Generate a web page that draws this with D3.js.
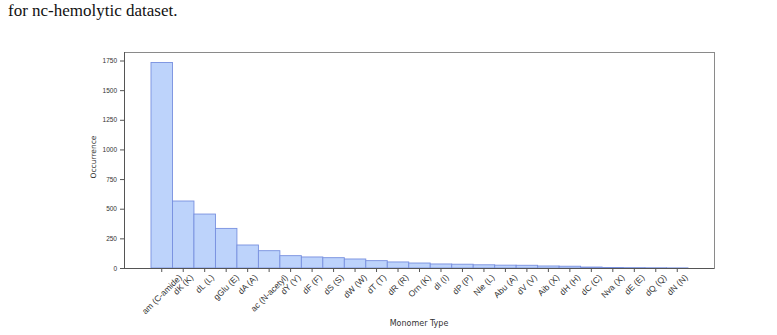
<!DOCTYPE html>
<html>
<head>
<meta charset="utf-8">
<script src="https://cdn.jsdelivr.net/npm/d3@7"></script>
<style>
  body { margin: 0; background: #fff; }
  #caption { position: absolute; left: 8px; top: 1px; font: 17px "Liberation Serif", "Times New Roman", serif; color: #111; }
</style>
</head>
<body>
<div id="caption">for nc-hemolytic dataset.</div>
<div id="chart"></div>
<script>
const monomers = ['am (C-amide)', 'dK (K)', 'dL (L)', 'gGlu (E)', 'dA (A)', 'ac (N-acetyl)', 'dY (Y)', 'dF (F)',
  'dS (S)', 'dW (W)', 'dT (T)', 'dR (R)', 'Orn (K)', 'dI (I)', 'dP (P)', 'Nle (L)', 'Abu (A)', 'dV (V)',
  'Aib (X)', 'dH (H)', 'dC (C)', 'Nva (X)', 'dE (E)', 'dQ (Q)', 'dN (N)'];
const occurrence = [1733, 565, 455, 334, 194, 146, 104, 93, 87, 76, 62, 51, 42, 34, 32, 27, 24, 23, 17, 15, 8, 4, 3, 2, 1];
const yTicks = [0, 250, 500, 750, 1000, 1250, 1500, 1750];

const width = 777, height = 335;
const plot = {left: 124, right: 714, top: 52, bottom: 268};

const svg = d3.select('#chart').append('svg')
  .attr('width', width)
  .attr('height', height)
  .style('position', 'absolute')
  .style('left', 0)
  .style('top', 0)
  .style('font-family', '"DejaVu Sans", sans-serif');

const x = d3.scaleBand()
  .domain(monomers)
  .range([151, 688])
  .padding(0);

const y = d3.scaleLinear()
  .domain([0, 1750])
  .range([plot.bottom, 60.5]);

// frame
svg.append('rect')
  .attr('x', plot.left + 0.5)
  .attr('y', plot.top + 0.5)
  .attr('width', plot.right - plot.left)
  .attr('height', plot.bottom - plot.top)
  .attr('fill', 'none')
  .attr('stroke', '#8a8a8a')
  .attr('stroke-width', 1);

svg.append('g')
  .selectAll('rect')
  .data(monomers)
  .join('rect')
    .attr('x', d => x(d))
    .attr('y', (d, i) => y(occurrence[i]))
    .attr('width', x.bandwidth())
    .attr('height', (d, i) => y(0) - y(occurrence[i]))
    .attr('fill', '#bdd3fb')
    .attr('stroke', '#7890df')
    .attr('stroke-width', 0.9);

const yAxis = svg.append('g')
  .attr('transform', `translate(${plot.left},0)`)
  .call(d3.axisLeft(y).tickValues(yTicks).tickFormat(d3.format('d')).tickSize(4).tickPadding(3));

const xAxis = svg.append('g')
  .attr('transform', `translate(0,${plot.bottom})`)
  .call(d3.axisBottom(x).tickSize(4).tickPadding(2));

[yAxis, xAxis].forEach(g => {
  g.select('.domain').attr('stroke', '#555');
  g.selectAll('.tick line').attr('stroke', '#555');
  g.selectAll('.tick text').attr('fill', '#333');
});

yAxis.selectAll('.tick text').style('font-size', '6.5px');

xAxis.select('.domain').attr('d', `M${plot.left},0.5H${plot.right}`);
yAxis.select('.domain').attr('d', `M0.5,${plot.top}V${plot.bottom}`);

// rotated labels centred under the tick, box top just below the tick
const fs = 8.5;
xAxis.selectAll('.tick text')
  .style('font-size', fs + 'px')
  .attr('text-anchor', 'middle')
  .attr('x', 0)
  .attr('y', 0)
  .attr('dy', '0.35em')
  .attr('transform', function() {
    const len = this.getComputedTextLength();
    const half = (len + fs) / Math.SQRT2 / 2;
    return `translate(0,${5 + half}) rotate(-45)`;
  });

svg.append('text')
  .attr('x', 419)
  .attr('y', 326)
  .attr('text-anchor', 'middle')
  .style('font-size', '8px')
  .attr('fill', '#333')
  .text('Monomer Type');

svg.append('text')
  .attr('transform', 'translate(96,157) rotate(-90)')
  .attr('text-anchor', 'middle')
  .style('font-size', '7.5px')
  .attr('fill', '#333')
  .text('Occurrence');
</script>
</body>
</html>
